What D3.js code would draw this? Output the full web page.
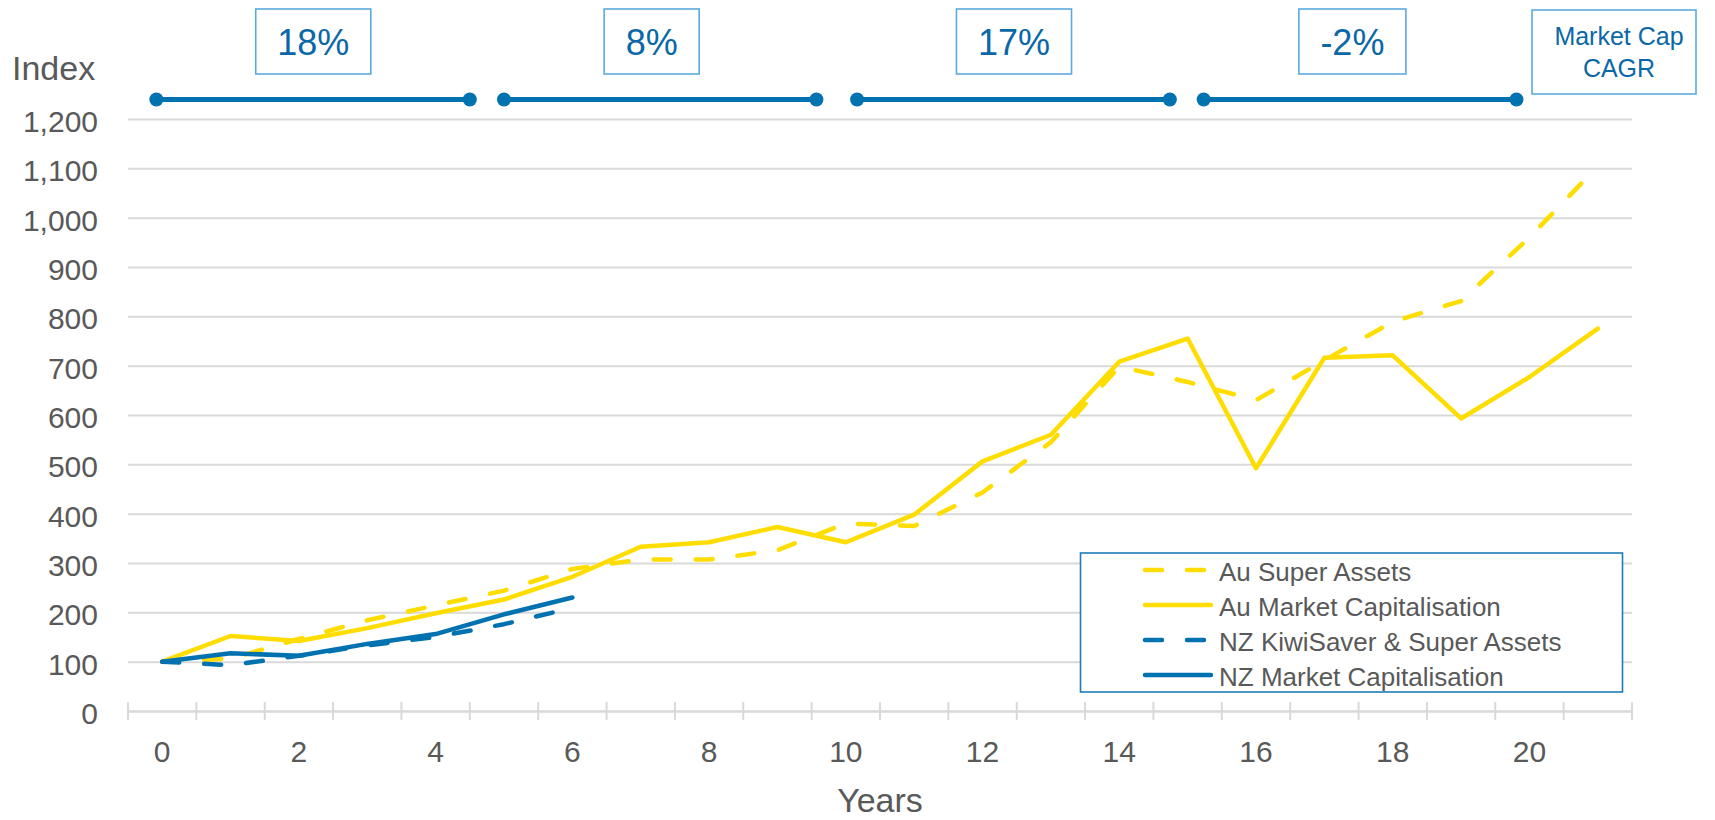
<!DOCTYPE html>
<html>
<head>
<meta charset="utf-8">
<script src="https://cdn.jsdelivr.net/npm/d3@7"></script>
<style>
  html, body { margin: 0; padding: 0; background: #ffffff; }
  svg { display: block; font-family: "Liberation Sans", Arial, sans-serif; }
</style>
</head>
<body>
<svg id="chart" width="1715" height="820"></svg>
<script>
// ---------------- DATA ----------------
const years = [0,1,2,3,4,5,6,7,8,9,10,11,12,13,14,15,16,17,18,19,20,21];
const xTickLabels = [0,2,4,6,8,10,12,14,16,18,20];
const yTicks = [0,100,200,300,400,500,600,700,800,900,1000,1100,1200];

const auSuperAssets = [100,106,146,184,214,244,288,307,307,326,380,375,443,545,698,667,630,711,789,831,960,1104];
const auMarketCap   = [100,152,142,168,198,226,272,333,342,373,342,398,506,560,708,755,492,716,721,593,677,775];
const nzSuperAssets = [100,93,112,133,150,176,209];
const nzMarketCap   = [100,117,112,136,156,196,230];

const seriesNames = ["Au Super Assets","Au Market Capitalisation","NZ KiwiSaver & Super Assets","NZ Market Capitalisation"];

const cagrLabels = ["18%","8%","17%","-2%"];
const cagrSpans  = [[-0.085,4.5],[5.0,9.57],[10.165,14.74],[15.235,19.81]]; // in years
const cagrTitle  = ["Market Cap","CAGR"];

// ---------------- LAYOUT ----------------
const W = 1715, H = 820;
const plot = {left:128, right:1632, top:119, bottom:711};
const YELLOW = "#FFDD00", BLUE = "#0072B0", GRID = "#d9d9d9", TEXT = "#595959";
const BOXBORDER = "#5AAAE0", BOXTEXT = "#0A67A8";

const svg = d3.select("#chart");

const x = d3.scaleBand().domain(years).range([plot.left, plot.right]).padding(0);
const bw = x.bandwidth();
const xc = d => x(d) + bw/2;
const xYear = d3.scaleLinear().domain([0,1]).range([xc(0), xc(0)+bw]);
const y = d3.scaleLinear().domain([0,1200]).range([plot.bottom, plot.top]);

// gridlines
const grid = svg.append("g")
  .attr("transform", `translate(${plot.left},0)`)
  .call(d3.axisLeft(y).tickValues(yTicks.filter(v=>v>0)).tickSize(-(plot.right-plot.left)).tickFormat(""));
grid.select(".domain").remove();
grid.selectAll(".tick line").attr("stroke", GRID).attr("stroke-width", 2);

// y tick labels
const yAxis = svg.append("g")
  .attr("transform", `translate(98,0)`)
  .call(d3.axisLeft(y).tickValues(yTicks).tickSize(0).tickPadding(0).tickFormat(d3.format(",")));
yAxis.select(".domain").remove();
yAxis.selectAll(".tick text")
  .attr("fill", TEXT).attr("font-size", 30)
  .attr("font-family", '"Liberation Sans", Arial, sans-serif')
  .attr("dy", "0.42em");

// x axis
const xAxis = svg.append("g")
  .attr("transform", `translate(0,${plot.bottom})`)
  .call(d3.axisBottom(x).tickSize(0).tickPadding(0)
    .tickFormat(d => xTickLabels.includes(d) ? String(d) : ""));
xAxis.select(".domain").attr("stroke", GRID).attr("stroke-width", 2.5);
xAxis.selectAll(".tick text")
  .attr("fill", TEXT).attr("font-size", 30)
  .attr("font-family", '"Liberation Sans", Arial, sans-serif')
  .attr("dy", null).attr("y", 51);

// boundary tick marks
const bounds = years.map(d => x(d)).concat([x(years[years.length-1]) + bw]);
svg.append("g").selectAll("line").data(bounds).join("line")
  .attr("x1", d=>d).attr("x2", d=>d)
  .attr("y1", plot.bottom-9).attr("y2", plot.bottom+9)
  .attr("stroke", GRID).attr("stroke-width", 2);

// axis titles
svg.append("text").attr("x", 12).attr("y", 80).attr("font-size", 34).attr("fill", TEXT).text("Index");
svg.append("text").attr("x", (plot.left+plot.right)/2).attr("y", 812).attr("text-anchor","middle")
  .attr("font-size", 34).attr("fill", TEXT).text("Years");

// lines
const line = d3.line().x((d,i)=>xc(years[i])).y(d=>y(d));
const DASH = "17,25";
const series = [
  {vals: auSuperAssets, color: YELLOW, dash: DASH},
  {vals: auMarketCap,   color: YELLOW, dash: null},
  {vals: nzSuperAssets, color: BLUE,   dash: DASH},
  {vals: nzMarketCap,   color: BLUE,   dash: null}
];
svg.append("g").selectAll("path").data(series).join("path")
  .attr("d", d => line(d.vals))
  .attr("fill", "none")
  .attr("stroke", d => d.color)
  .attr("stroke-width", 4.5)
  .attr("stroke-linejoin", "round")
  .attr("stroke-linecap", "round")
  .attr("stroke-dasharray", d => d.dash);

// CAGR segments
const segY = 99.5;
const seg = svg.append("g");
seg.selectAll("line").data(cagrSpans).join("line")
  .attr("x1", d=>xYear(d[0])).attr("x2", d=>xYear(d[1]))
  .attr("y1", segY).attr("y2", segY)
  .attr("stroke", BLUE).attr("stroke-width", 5);
seg.selectAll("circle").data(cagrSpans.flat()).join("circle")
  .attr("cx", d=>xYear(d)).attr("cy", segY).attr("r", 7).attr("fill", BLUE);

// CAGR boxes
const boxCenters = [2.21, 7.16, 12.46, 17.41]; // year units (layout)
cagrLabels.forEach((lab, i) => {
  const g = svg.append("g");
  const t = g.append("text").attr("x", xYear(boxCenters[i])).attr("y", 55)
    .attr("text-anchor","middle").attr("font-size", 36).attr("fill", BOXTEXT).text(lab);
  const bb = t.node().getBBox();
  g.insert("rect", "text")
    .attr("x", bb.x - 21.5).attr("y", 9).attr("width", bb.width + 43).attr("height", 65)
    .attr("fill", "#fff").attr("stroke", BOXBORDER).attr("stroke-width", 1.6);
});
// Market Cap CAGR box
const mg = svg.append("g");
mg.append("rect").attr("x", 1532).attr("y", 10).attr("width", 164).attr("height", 84)
  .attr("fill", "#fff").attr("stroke", BOXBORDER).attr("stroke-width", 1.6);
mg.selectAll("text").data(cagrTitle).join("text")
  .attr("x", 1619).attr("y", (d,i)=>45+i*32).attr("text-anchor","middle")
  .attr("font-size", 25).attr("fill", BOXTEXT).text(d=>d);

// legend
const lg = svg.append("g");
lg.append("rect").attr("x", 1080.5).attr("y", 553).attr("width", 542).attr("height", 139)
  .attr("fill", "#fff").attr("stroke", "#1F7BBA").attr("stroke-width", 1.6);
const rowY = i => 570 + i*35;
lg.selectAll("line").data(series).join("line")
  .attr("x1", 1145).attr("x2", 1211)
  .attr("y1", (d,i)=>rowY(i)).attr("y2", (d,i)=>rowY(i))
  .attr("stroke", d=>d.color).attr("stroke-width", 4.5)
  .attr("stroke-linecap","round")
  .attr("stroke-dasharray", d=>d.dash);
lg.selectAll("text").data(seriesNames).join("text")
  .attr("x", 1219).attr("y", (d,i)=>rowY(i)+11)
  .attr("font-size", 26).attr("fill", TEXT).text(d=>d);
</script>
</body>
</html>
